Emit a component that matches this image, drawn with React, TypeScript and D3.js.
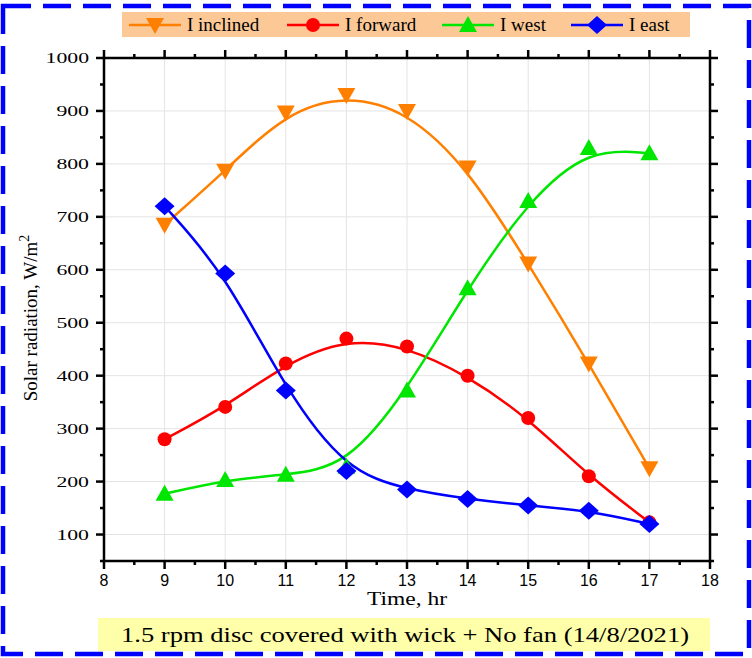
import React from 'react'
import * as d3 from 'd3'

const hours = [9, 10, 11, 12, 13, 14, 15, 16, 17]
const inclined = [685, 787, 897, 930, 900, 793, 612, 423, 225]
const forward = [280, 341, 423, 470, 455, 400, 320, 210, 123]
const west = [177, 203, 213, 228, 372, 565, 730, 830, 820]
const east = [720, 593, 372, 220, 185, 167, 155, 145, 120]
const xTicks = [8, 9, 10, 11, 12, 13, 14, 15, 16, 17, 18]
const yTicks = [100, 200, 300, 400, 500, 600, 700, 800, 900, 1000]

const series = [
    { name: 'I inclined', values: inclined, color: '#ff8000', marker: 'down' },
    { name: 'I forward', values: forward, color: '#ff0000', marker: 'circle' },
    { name: 'I west', values: west, color: '#00e600', marker: 'up' },
    { name: 'I east', values: east, color: '#0000ff', marker: 'diamond' },
]

const W = 752, H = 658
const left = 104, right = 710, top = 58, bottom = 561
const SERIF = "'Liberation Serif', 'Times New Roman', Times, serif"
const SANS = "'Liberation Sans', Arial, Helvetica, sans-serif"

function Marker({ type, x, y, color }: any) {
    if (type === 'circle') return <circle cx={x} cy={y} r={7} fill={color} />
    if (type === 'down') return <path d={`M${x - 9},${y - 7}L${x + 9},${y - 7}L${x},${y + 9}Z`} fill={color} />
    if (type === 'up') return <path d={`M${x - 9},${y + 7}L${x + 9},${y + 7}L${x},${y - 9}Z`} fill={color} />
    return <path d={`M${x},${y - 9}L${x + 10},${y}L${x},${y + 9}L${x - 10},${y}Z`} fill={color} />
}

export default function App() {
    const x = d3.scaleLinear().domain([8, 18]).range([left, right])
    const y = d3.scaleLinear().domain([50, 1000]).range([bottom, top])
    const line = d3.line<number>()
        .x((d, i) => x(hours[i]))
        .y(d => y(d))
        .curve(d3.curveBasis)

    const xMinor = d3.range(8.5, 18, 1)
    const yMinor = d3.range(50, 1000, 100)
    const legendX = [129, 287, 442, 571]

    return (
        <svg width={W} height={H} style={{ position: 'absolute', left: 0, top: 0 }}>
            <rect x={0} y={0} width={W} height={H} fill="#fff" />
            {/* outer dashed frame */}
            <rect x={3} y={6} width={W - 6} height={H - 10} fill="none" stroke="#0000ff"
                strokeWidth={4.5} strokeDasharray="28 12" />

            {/* grid */}
            {xTicks.slice(1, -1).map(t => (
                <line key={'gx' + t} x1={x(t)} x2={x(t)} y1={top} y2={bottom} stroke="#e4e4e4" strokeWidth={1} />
            ))}
            {yTicks.slice(0, -1).map(t => (
                <line key={'gy' + t} x1={left} x2={right} y1={y(t)} y2={y(t)} stroke="#e4e4e4" strokeWidth={1} />
            ))}

            {/* curves */}
            {series.map(s => (
                <path key={s.name} d={line(s.values) || ''} fill="none" stroke={s.color} strokeWidth={2.5} />
            ))}
            {series.map(s => (
                <g key={'m' + s.name}>
                    {s.values.map((v, i) => <Marker key={i} type={s.marker} x={x(hours[i])} y={y(v)} color={s.color} />)}
                </g>
            ))}

            {/* axes */}
            <g stroke="#000" strokeWidth={2.5}>
                <rect x={left} y={top} width={right - left} height={bottom - top} fill="none" />
                {xTicks.map(t => (
                    <g key={'xt' + t}>
                        <line x1={x(t)} x2={x(t)} y1={bottom} y2={bottom + 8} />
                        <line x1={x(t)} x2={x(t)} y1={top} y2={top - 8} />
                    </g>
                ))}
                {xMinor.map(t => (
                    <g key={'xm' + t}>
                        <line x1={x(t)} x2={x(t)} y1={bottom} y2={bottom + 4} />
                        <line x1={x(t)} x2={x(t)} y1={top} y2={top - 4} />
                    </g>
                ))}
                {yTicks.map(t => (
                    <g key={'yt' + t}>
                        <line x1={left} x2={left - 8} y1={y(t)} y2={y(t)} />
                        <line x1={right} x2={right + 8} y1={y(t)} y2={y(t)} />
                    </g>
                ))}
                {yMinor.map(t => (
                    <g key={'ym' + t}>
                        <line x1={left} x2={left - 4} y1={y(t)} y2={y(t)} />
                        <line x1={right} x2={right + 4} y1={y(t)} y2={y(t)} />
                    </g>
                ))}
            </g>

            {/* tick labels */}
            {xTicks.map(t => (
                <text key={'xl' + t} x={x(t)} y={bottom + 25} textAnchor="middle"
                    fontFamily={SANS} fontSize={16}>{t}</text>
            ))}
            {yTicks.map(t => (
                <g key={'yl' + t} transform={`translate(${left - 15},${y(t) + 5}) scale(1.45,1)`}>
                    <text textAnchor="end" fontFamily={SERIF} fontSize={15}>{t}</text>
                </g>
            ))}

            {/* axis titles */}
            <text x={(left + right) / 2} y={605} textAnchor="middle" fontFamily={SERIF}
                fontSize={18} textLength={80} lengthAdjust="spacingAndGlyphs">Time, hr</text>
            <text transform={`translate(37,318) rotate(-90)`} textAnchor="middle"
                fontFamily={SERIF} fontSize={19}>
                <tspan>Solar radiation, W/m</tspan>
                <tspan dy={-8} fontSize={14}>2</tspan>
            </text>

            {/* legend */}
            <rect x={122} y={12} width={568} height={25} fill="#fbc896" />
            {series.map((s, i) => (
                <g key={'lg' + s.name}>
                    <line x1={legendX[i]} x2={legendX[i] + 52} y1={25} y2={25} stroke={s.color} strokeWidth={2.5} />
                    <Marker type={s.marker} x={legendX[i] + 26} y={25} color={s.color} />
                    <text x={legendX[i] + 58} y={31} fontFamily={SERIF} fontSize={19}>{s.name}</text>
                </g>
            ))}

            {/* caption */}
            <rect x={98} y={618} width={612} height={33} fill="#ffffaa" />
            <text x={405} y={642} textAnchor="middle" fontFamily={SERIF} fontSize={21}
                textLength={568} lengthAdjust="spacingAndGlyphs">1.5 rpm disc covered with wick + No fan (14/8/2021)</text>
        </svg>
    )
}
